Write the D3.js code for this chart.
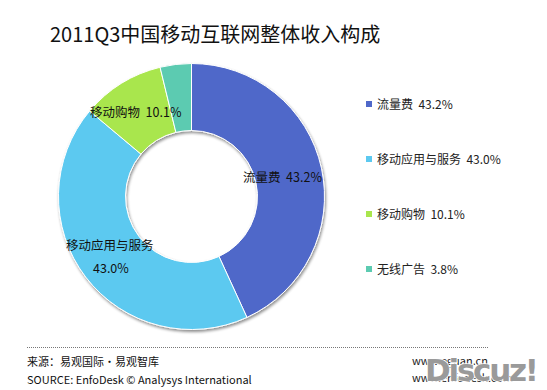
<!DOCTYPE html>
<html><head><meta charset="utf-8">
<script src="https://cdn.jsdelivr.net/npm/d3@7"></script>
<style>body{margin:0;background:#fff;} svg{display:block;font-family:"Noto Sans CJK SC","Noto Sans",sans-serif;} text{white-space:pre;}</style>
</head><body>
<svg id="c" width="547" height="390"></svg>
<script>
const categories = ["流量费", "移动应用与服务", "移动购物", "无线广告"];
const values = [43.2, 43.0, 10.1, 3.8];
const colors = ["#4F68C9", "#5CC9F0", "#A9E64D", "#5CCBB1"];

const svg = d3.select("#c");
const cx = 191.5, cy = 196.5, R = 133, r = 66;

svg.append("text").attr("x", 50).attr("y", 42).attr("font-size", 20).attr("fill", "#111")
  .text("2011Q3中国移动互联网整体收入构成");

const defs = svg.append("defs");
const f = defs.append("filter").attr("id", "sh").attr("x", "-20%").attr("y", "-20%").attr("width", "140%").attr("height", "140%");
f.append("feGaussianBlur").attr("in", "SourceAlpha").attr("stdDeviation", 1.5);
f.append("feOffset").attr("dx", 1).attr("dy", 2).attr("result", "o");
f.append("feComponentTransfer").append("feFuncA").attr("type", "linear").attr("slope", 0.45);
const m = f.append("feMerge"); m.append("feMergeNode"); m.append("feMergeNode").attr("in", "SourceGraphic");

const pie = d3.pie().sort(null).value(d => d);
const arcs = pie(values);
const arc = d3.arc().innerRadius(r).outerRadius(R);
const g = svg.append("g").attr("transform", `translate(${cx},${cy})`);
g.append("g").attr("filter", "url(#sh)").selectAll("path").data(arcs).join("path")
  .attr("d", arc).attr("fill", (d, i) => colors[i]).attr("stroke", "#fff").attr("stroke-width", 1);

// in-chart labels
const lab = [
  {lines: [`${categories[0]}  ${values[0].toFixed(1)}%`], x: [243], y: [182]},
  {lines: [categories[1], `${values[1].toFixed(1)}%`], x: [66, 93], y: [250, 273]},
  {lines: [`${categories[2]}  ${values[2].toFixed(1)}%`], x: [90], y: [117]}
];
lab.forEach(l => {
  l.lines.forEach((t, k) => {
    svg.append("text").attr("x", l.x[k]).attr("y", l.y[k])
      .attr("font-size", 12.5).attr("fill", "#111").text(t);
  });
});

// legend
const leg = svg.append("g");
categories.forEach((c, i) => {
  const y = 104 + i * 55;
  leg.append("rect").attr("x", 366).attr("y", y - 3).attr("width", 6).attr("height", 6).attr("fill", colors[i]);
  leg.append("text").attr("x", 377).attr("y", y + 4.5).attr("font-size", 12).attr("fill", "#222")
    .text(`${c}  ${values[i].toFixed(1)}%`);
});

// footer
svg.append("line").attr("x1", 27).attr("x2", 488).attr("y1", 347.5).attr("y2", 347.5)
  .attr("stroke", "#777").attr("stroke-width", 1).attr("stroke-dasharray", "1,1");
svg.append("text").attr("x", 27).attr("y", 366).attr("font-size", 11).attr("fill", "#111").text("来源：易观国际·易观智库");
svg.append("text").attr("x", 27).attr("y", 384).attr("font-size", 11).attr("fill", "#111").text("SOURCE: EnfoDesk © Analysys International");
svg.append("text").attr("x", 412).attr("y", 365).attr("font-size", 11).attr("fill", "#222").text("www.eguan.cn");
svg.append("text").attr("x", 412).attr("y", 382).attr("font-size", 11).attr("fill", "#222").text("www.enfodesk.com");
svg.append("text").attr("x", 425).attr("y", 381).attr("font-size", 31).attr("font-weight", "bold")
  .attr("font-family", "DejaVu Sans").attr("fill", "#9a9a9a").attr("stroke", "#fff").attr("stroke-width", 1.5)
  .attr("paint-order", "stroke").attr("textLength", 114).text("Discuz!");
</script>
</body></html>
